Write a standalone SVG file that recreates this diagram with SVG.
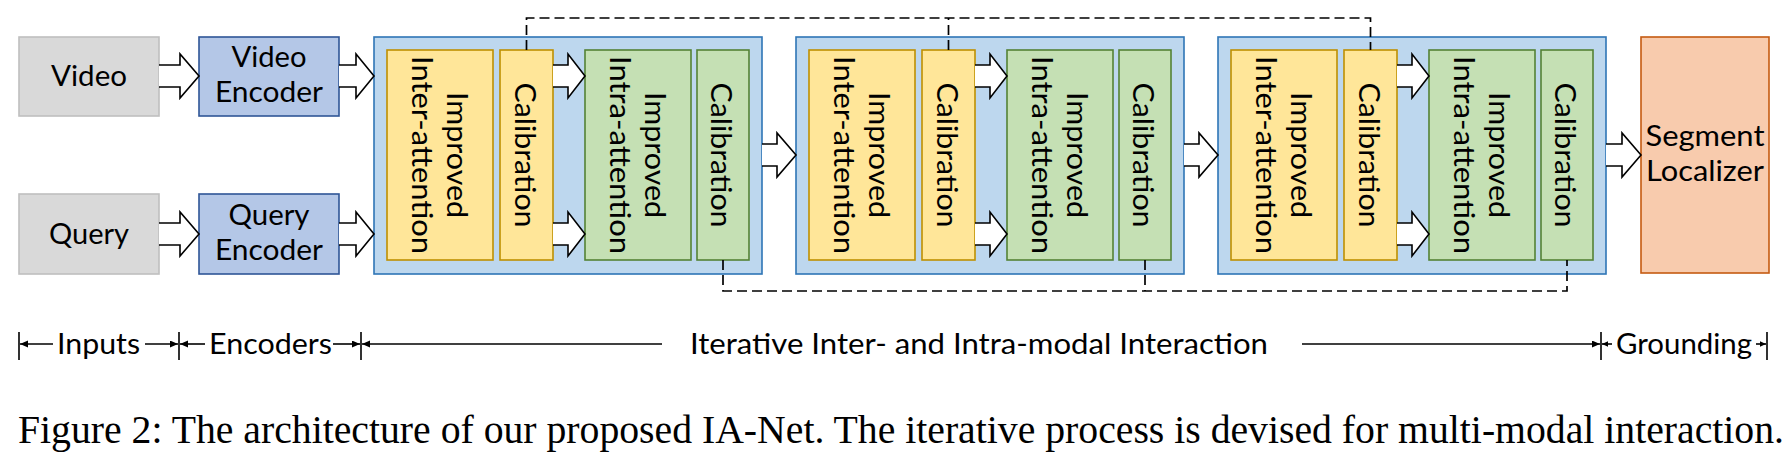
<svg xmlns="http://www.w3.org/2000/svg" width="1787" height="467" viewBox="0 0 1787 467">
<style>
.t{font-family:Lato,"Liberation Sans",sans-serif;font-size:29px;fill:#000;text-anchor:middle}
.cap{font-family:"Liberation Serif","Times New Roman",serif;font-size:39px;fill:#000}
.gray{fill:#d9d9d9;stroke:#bfbfbf;stroke-width:1.6}
.enc{fill:#b4c7e7;stroke:#2f5597;stroke-width:1.6}
.big{fill:#bdd7ee;stroke:#2e75b6;stroke-width:1.6}
.yel{fill:#ffe699;stroke:#bf9000;stroke-width:1.6}
.grn{fill:#c5e0b4;stroke:#548235;stroke-width:1.6}
.org{fill:#f8cbad;stroke:#c55a11;stroke-width:1.6}
.blk{fill:#fff;stroke:#000;stroke-width:1.6;stroke-linejoin:miter}
.dash{fill:none;stroke:#000;stroke-width:1.7;stroke-dasharray:10 5}
.dim{fill:none;stroke:#000;stroke-width:1.6}
</style>
<defs>
<marker id="ah" markerUnits="userSpaceOnUse" markerWidth="9" markerHeight="8" refX="8" refY="3.5" orient="auto">
<path d="M0,0 L8,3.5 L0,7 Z" fill="#000"/>
</marker>
<marker id="ahs" markerUnits="userSpaceOnUse" markerWidth="7" markerHeight="6" refX="6" refY="2.75" orient="auto">
<path d="M0,0 L6,2.75 L0,5.5 Z" fill="#000"/>
</marker>
</defs>
<rect width="1787" height="467" fill="#fff"/>

<g id="video"><rect class="gray" x="19" y="37" width="140" height="79"/><text class="t" x="89" y="86" textLength="76" lengthAdjust="spacingAndGlyphs">Video</text></g>
<g id="query"><rect class="gray" x="19" y="194" width="140" height="80"/><text class="t" x="89" y="244" textLength="80" lengthAdjust="spacingAndGlyphs">Query</text></g>
<g id="video-encoder"><rect class="enc" x="199" y="37" width="140" height="79"/><text class="t" x="269" y="67" textLength="75" lengthAdjust="spacingAndGlyphs">Video</text><text class="t" x="269" y="102" textLength="108" lengthAdjust="spacingAndGlyphs">Encoder</text></g>
<g id="query-encoder"><rect class="enc" x="199" y="194" width="140" height="80"/><text class="t" x="269" y="224.5" textLength="81" lengthAdjust="spacingAndGlyphs">Query</text><text class="t" x="269" y="259.5" textLength="108" lengthAdjust="spacingAndGlyphs">Encoder</text></g>

<g id="stage1">
<rect class="big" x="374" y="37" width="388" height="237"/>
<g id="inter1"><rect class="yel" x="387" y="50" width="106" height="210"/><text class="t" transform="rotate(90 440 155)" x="440" y="148.5" textLength="126" lengthAdjust="spacingAndGlyphs">Improved</text><text class="t" transform="rotate(90 440 155)" x="440" y="183.5" textLength="198" lengthAdjust="spacingAndGlyphs">Inter-attention</text></g>
<g id="cal1a"><rect class="yel" x="500" y="50" width="53" height="210"/><text class="t" transform="rotate(90 526.5 155)" x="526.5" y="167" textLength="145" lengthAdjust="spacingAndGlyphs">Calibration</text></g>
<g id="intra1"><rect class="grn" x="585" y="50" width="106" height="210"/><text class="t" transform="rotate(90 638 155)" x="638" y="148.5" textLength="126" lengthAdjust="spacingAndGlyphs">Improved</text><text class="t" transform="rotate(90 638 155)" x="638" y="183.5" textLength="198" lengthAdjust="spacingAndGlyphs">Intra-attention</text></g>
<g id="cal1b"><rect class="grn" x="697" y="50" width="52" height="210"/><text class="t" transform="rotate(90 723 155)" x="723" y="167" textLength="145" lengthAdjust="spacingAndGlyphs">Calibration</text></g>
</g>

<g id="stage2">
<rect class="big" x="796" y="37" width="388" height="237"/>
<g id="inter2"><rect class="yel" x="809" y="50" width="106" height="210"/><text class="t" transform="rotate(90 862 155)" x="862" y="148.5" textLength="126" lengthAdjust="spacingAndGlyphs">Improved</text><text class="t" transform="rotate(90 862 155)" x="862" y="183.5" textLength="198" lengthAdjust="spacingAndGlyphs">Inter-attention</text></g>
<g id="cal2a"><rect class="yel" x="922" y="50" width="53" height="210"/><text class="t" transform="rotate(90 948.5 155)" x="948.5" y="167" textLength="145" lengthAdjust="spacingAndGlyphs">Calibration</text></g>
<g id="intra2"><rect class="grn" x="1007" y="50" width="106" height="210"/><text class="t" transform="rotate(90 1060 155)" x="1060" y="148.5" textLength="126" lengthAdjust="spacingAndGlyphs">Improved</text><text class="t" transform="rotate(90 1060 155)" x="1060" y="183.5" textLength="198" lengthAdjust="spacingAndGlyphs">Intra-attention</text></g>
<g id="cal2b"><rect class="grn" x="1119" y="50" width="52" height="210"/><text class="t" transform="rotate(90 1145 155)" x="1145" y="167" textLength="145" lengthAdjust="spacingAndGlyphs">Calibration</text></g>
</g>

<g id="stage3">
<rect class="big" x="1218" y="37" width="388" height="237"/>
<g id="inter3"><rect class="yel" x="1231" y="50" width="106" height="210"/><text class="t" transform="rotate(90 1284 155)" x="1284" y="148.5" textLength="126" lengthAdjust="spacingAndGlyphs">Improved</text><text class="t" transform="rotate(90 1284 155)" x="1284" y="183.5" textLength="198" lengthAdjust="spacingAndGlyphs">Inter-attention</text></g>
<g id="cal3a"><rect class="yel" x="1344" y="50" width="53" height="210"/><text class="t" transform="rotate(90 1370.5 155)" x="1370.5" y="167" textLength="145" lengthAdjust="spacingAndGlyphs">Calibration</text></g>
<g id="intra3"><rect class="grn" x="1429" y="50" width="106" height="210"/><text class="t" transform="rotate(90 1482 155)" x="1482" y="148.5" textLength="126" lengthAdjust="spacingAndGlyphs">Improved</text><text class="t" transform="rotate(90 1482 155)" x="1482" y="183.5" textLength="198" lengthAdjust="spacingAndGlyphs">Intra-attention</text></g>
<g id="cal3b"><rect class="grn" x="1541" y="50" width="52" height="210"/><text class="t" transform="rotate(90 1567 155)" x="1567" y="167" textLength="145" lengthAdjust="spacingAndGlyphs">Calibration</text></g>
</g>

<g id="segment-localizer"><rect class="org" x="1641" y="37" width="128" height="236"/><text class="t" x="1705" y="146" textLength="119" lengthAdjust="spacingAndGlyphs">Segment</text><text class="t" x="1705" y="181" textLength="118" lengthAdjust="spacingAndGlyphs">Localizer</text></g>

<g id="connectors">
<path class="blk" d="M159,65 H180 V54 L199,76 L180,98 V87 H159"/>
<path class="blk" d="M159,223 H180 V212 L199,234 L180,256 V245 H159"/>
<path class="blk" d="M339,65 H356 V54 L374,76 L356,98 V87 H339"/>
<path class="blk" d="M339,223 H356 V212 L374,234 L356,256 V245 H339"/>
<path class="blk" d="M553,65 H568 V54 L585,76 L568,98 V87 H553"/>
<path class="blk" d="M553,223 H568 V212 L585,234 L568,256 V245 H553"/>
<path class="blk" d="M975,65 H990 V54 L1007,76 L990,98 V87 H975"/>
<path class="blk" d="M975,223 H990 V212 L1007,234 L990,256 V245 H975"/>
<path class="blk" d="M1397,65 H1412 V54 L1429,76 L1412,98 V87 H1397"/>
<path class="blk" d="M1397,223 H1412 V212 L1429,234 L1412,256 V245 H1397"/>
<path class="blk" d="M762,144 H777 V133 L796,155 L777,177 V166 H762"/>
<path class="blk" d="M1184,144 H1199 V133 L1218,155 L1199,177 V166 H1184"/>
<path class="blk" d="M1606,144 H1622 V133 L1641,155 L1622,177 V166 H1606"/>
<path class="dash" d="M526.5,50 V18 H1370.5 V50"/>
<path class="dash" d="M948.5,50 V18"/>
<path class="dash" d="M723,260 V291 H1567 V260"/>
<path class="dash" d="M1145,260 V291"/>
</g>

<g id="stage-labels">
<path class="dim" d="M19,332 V360 M179,332 V360 M361,332 V360 M1601,332 V360 M1767,332 V360"/>
<line class="dim" x1="53" y1="344" x2="20" y2="344" marker-end="url(#ah)"/>
<line class="dim" x1="145" y1="344" x2="178" y2="344" marker-end="url(#ah)"/>
<line class="dim" x1="205" y1="344" x2="180" y2="344" marker-end="url(#ah)"/>
<line class="dim" x1="333" y1="344" x2="360" y2="344" marker-end="url(#ah)"/>
<line class="dim" x1="662" y1="344" x2="362" y2="344" marker-end="url(#ah)"/>
<line class="dim" x1="1302" y1="344" x2="1600" y2="344" marker-end="url(#ah)"/>
<line class="dim" x1="1612" y1="344" x2="1602" y2="344" marker-end="url(#ahs)"/>
<line class="dim" x1="1756" y1="344" x2="1766" y2="344" marker-end="url(#ahs)"/>
<text class="t" x="98.5" y="354" textLength="83" lengthAdjust="spacingAndGlyphs">Inputs</text>
<text class="t" x="270.5" y="354" textLength="123" lengthAdjust="spacingAndGlyphs">Encoders</text>
<text class="t" x="979" y="354" textLength="578" lengthAdjust="spacingAndGlyphs">Iterative Inter- and Intra-modal Interaction</text>
<text class="t" x="1684" y="354" textLength="136" lengthAdjust="spacingAndGlyphs">Grounding</text>
</g>

<text class="cap" x="18" y="443" textLength="1766" lengthAdjust="spacingAndGlyphs">Figure 2: The architecture of our proposed IA-Net. The iterative process is devised for multi-modal interaction.</text>
</svg>
